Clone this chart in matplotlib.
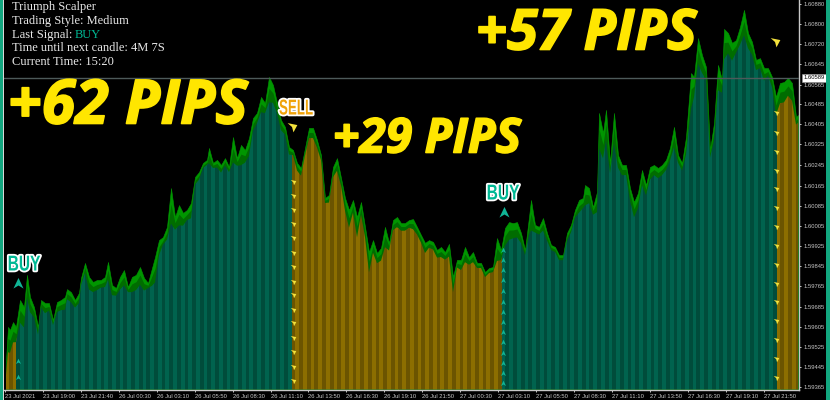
import numpy as np
import matplotlib
matplotlib.use('Agg')
import matplotlib.pyplot as plt
import matplotlib.patheffects as pe
from matplotlib.patches import Rectangle
from matplotlib.path import Path
from matplotlib.transforms import Affine2D

BASE = 1.59  # all series below are in pips above this price

bar_x = [6, 8, 10, 13, 16, 20, 24, 27, 30, 34, 38, 41, 45, 49, 53, 57, 61, 65, 67, 71,
         75, 79, 81, 85, 89, 93, 97, 101, 105, 108, 112, 116, 120, 124, 128, 132, 136, 140, 144, 148,
         152, 155, 159,
         163, 167, 171, 175, 179, 183, 187, 191, 195, 199, 203, 207, 209, 213, 217, 221, 225, 229, 233, 237,
         241, 245, 249, 253, 257, 261, 265, 269, 273, 277, 281, 285, 289, 293, 297, 301, 305, 309, 313, 317,
         321,
         325, 329, 333, 337, 341, 345, 349, 353, 357, 361, 365, 369, 373, 377, 381, 385, 389, 393, 397, 401,
         405, 409, 413, 417, 421, 425, 429, 433, 437, 441, 445, 449, 453, 457, 461, 465, 469, 473, 477, 481,
         485, 489, 493, 497, 501, 505, 509,
         513, 517, 521, 525, 529, 531, 535, 539, 543, 547, 551, 555, 559, 563, 567, 571, 575, 579, 583, 585,
         589, 593, 597, 599, 603, 606, 610, 614, 618, 622, 626, 630, 634, 638, 642, 646, 650,
         654, 658, 662, 666, 670, 674, 678, 682, 686, 691, 694, 698, 702, 706, 710, 714, 718, 722, 724, 728,
         732, 736, 740, 744, 748, 752, 756, 760, 764, 768, 772, 776, 780, 784, 788, 792, 796, 798]

high_pips = [47.2, 60.2, 59, 62.1, 60.2, 70.8, 68, 80.7, 72, 68,
             60.2, 70.8, 69.6, 69.6, 62.9, 70, 70.8, 72, 75.1, 73.9,
             70.8, 73.6, 79.5, 85.4, 79.9, 77.9, 78.7, 78.7, 79.9, 85.8,
             76.7, 75.5, 79.9, 82.6, 75.9, 79.9, 80.7, 83.8, 79.5, 77.5,
             83.4, 87.7, 94.4,
             95.6, 99.6, 114.9, 103.5, 108.2, 105.1, 106.3, 109, 119.3, 121.2,
             124.8, 126, 130.7, 124.8, 126, 124, 126.7, 123.2, 135, 126.7,
             131.9, 129.9, 134.6, 142.5, 144.5, 150.8, 148.4, 158.7, 155.5, 148.4,
             141.7, 139, 131.1, 129.9, 124.8, 122.8, 130.7, 138.6, 138.6, 133.8,
             127.9,
             111, 112.2, 123.2, 126.7, 118.9, 111, 106.3, 110.2, 103.5, 109.4,
             99.6, 89.7, 94.4, 89.3, 91.3, 99.6, 93.3, 102.3, 103.5, 101.1,
             101.1, 102.3, 102.7, 99.6, 96.4, 93.3, 94.4, 93.7, 90.5, 91.7,
             89.7, 92.9, 79.9, 86.6, 86.6, 91.7, 87.7, 89.7, 85.4, 85.4,
             81.8, 83.4, 83.8, 95.2, 90.5, 99.2, 101.5,
             101.1, 101.5, 97.2, 90.5, 103.5, 110.2, 100.4, 99.6, 103.1, 97.2,
             92.5, 91.7, 88.5, 88.5, 97.2, 100.4, 106.3, 110.2, 111, 116.1,
             114.9, 107.4, 113.4, 144.5, 136.6, 145.7, 124.8, 144.5, 127.9, 124,
             124, 114.9, 109.4, 113, 122, 116.1, 123.2,
             124, 122.8, 124, 126, 130.7, 139, 127.9, 124.8, 135, 160.2,
             158.7, 174, 167.3, 162.6, 129.9, 140.5, 163.4, 157.5, 177.6, 176,
             172.1, 173.2, 178.4, 185.1, 176, 172.5, 165.4, 166.1, 162.2, 162.2,
             158.7, 150.8, 156.3, 156.7, 158.3, 156.3, 142.9, 143.7]

# distance from the high down to the top of the coloured body
wick_pips = [6, 10, 9, 8, 6, 9, 8, 9, 6, 4,
             3, 3, 4, 3, 2, 4, 4, 5, 4, 4,
             3, 4, 3, 4, 5, 4, 4, 3, 4, 7,
             4, 3, 5, 6, 2, 6, 6, 7, 5, 2,
             7, 10, 6,
             3, 5, 14, 5, 8, 5, 4, 6, 3, 3,
             2, 2, 6, 2, 3, 3, 3, 2, 10, 3,
             8, 5, 7, 5, 4, 6, 4, 10, 7, 4,
             4, 3, 3, 2, 3, 3, 3, 4, 4, 3,
             2,
             2, 3, 4, 5, 3, 5, 7, 5, 8, 5,
             4, 8, 5, 4, 5, 8, 3, 4, 4, 3,
             3, 3, 4, 3, 3, 4, 3, 3, 3, 4,
             3, 5, 6, 3, 4, 6, 3, 4, 2, 2,
             2, 2, 2, 9, 4, 7, 7,
             6, 6, 4, 2, 7, 12, 3, 3, 5, 3,
             2, 2, 2, 2, 3, 3, 3, 5, 4, 8,
             6, 3, 8, 14, 10, 12, 4, 12, 5, 4,
             4, 5, 6, 6, 6, 4, 5,
             4, 4, 4, 4, 5, 8, 3, 3, 7, 14,
             8, 10, 7, 5, 3, 7, 10, 5, 12, 8,
             7, 5, 7, 10, 6, 5, 4, 4, 5, 3,
             4, 7, 8, 8, 7, 7, 3, 3]

# bars left of these positions keep the previous signal colour
signal_x = [18, 293, 503, 776]

x_ticks = [5, 43, 81, 119, 157, 195, 233, 271, 308, 346, 384, 422, 460, 498, 536, 574, 612, 650, 688, 726, 764]
x_labels = ['23 Jul 2021', '23 Jul 19:00', '23 Jul 21:40', '26 Jul 00:30', '26 Jul 03:10', '26 Jul 05:50',
            '26 Jul 08:30', '26 Jul 11:10', '26 Jul 13:50', '26 Jul 16:30', '26 Jul 19:10', '26 Jul 21:50',
            '27 Jul 00:30', '27 Jul 03:10', '27 Jul 05:50', '27 Jul 08:30', '27 Jul 11:10', '27 Jul 13:50',
            '27 Jul 16:30', '27 Jul 19:10', '27 Jul 21:50']

y_tick_pips = [187.4, 179.5, 171.5, 163.6, 155.7, 148, 140.1, 132.1, 124, 115.7,
               107.8, 99.9, 92.1, 84.2, 76.3, 68, 60.2, 52.3, 44.4, 36.5]
y_labels = ['1.60880', '1.60800', '1.60720', '1.60645', '1.60565', '1.60485', '1.60405', '1.60325', '1.60245',
            '1.60165', '1.60085', '1.60005', '1.59925', '1.59845', '1.59765', '1.59685', '1.59605', '1.59525',
            '1.59445', '1.59365']

last_price_pips = 158.3

buy_small_x = [18, 18]
buy_small_pips = [46.8, 40.5]
buy2_small_pips = [90.5, 86.6, 82.6, 78.7, 74.3, 70, 66.1, 62.1, 58.2, 54.3, 49.9, 46, 42, 38.1]
sell_small_pips = [117.3, 111.8, 106.3, 100.7, 95.2, 89.3, 83.8, 77.9, 72.8, 66.9, 61.7, 55.8, 50.3, 44.4, 38.9]
sell2_small_pips = [144.5, 136.6, 129.1, 121.6, 114.5, 107, 99.6, 92.1, 84.6, 77.1, 70, 62.5, 55, 47.6, 40.1]

info_lines = ['Triumph Scalper', 'Trading Style: Medium', 'Last Signal: ', 'Time until next candle: 4M 7S',
              'Current Time: 15:20']

TEAL = ['#00634e', '#004c3b']
AMBER = ['#8c6e00', '#6b5400']
W, H = 840, 400
STRIPE = 3.82

def price(pips):
    return BASE + np.asarray(pips) / 1e4

def px_y(y):
    # pixel row of the picture to price, same scale the series were read with
    return price(189 - 0.394 * y)

class Squeezed(pe.Stroke):
    # draws the glyphs narrower about a fixed pixel column, the badges use a condensed face
    def __init__(self, cx, sx, **kw):
        super().__init__(**kw)
        self.squeeze = Affine2D().translate(-cx, 0).scale(sx, 1).translate(cx, 0)

    def draw_path(self, renderer, gc, tpath, affine, rgbFace):
        super().draw_path(renderer, gc, tpath, affine + self.squeeze, rgbFace)

def main():
    fig = plt.figure(figsize=(W / 100, H / 100), dpi=100, facecolor='black')
    ax = fig.add_axes([4 / W, 1 - 389.5 / H, 795 / W, 389.5 / H], facecolor='black')
    ax.set_xlim(4, 799)
    ax.set_ylim(px_y(389.5), px_y(0))

    xs = np.array(bar_x, dtype=float)
    high = np.array(high_pips)
    wick = np.array(wick_pips)
    bottom = px_y(389.5)

    ax.fill_between(xs, price(high), bottom, color='#009600', linewidth=0.4, zorder=1)
    ax.fill_between(xs, price(high - wick * 0.45), bottom, color='#006c00', linewidth=0, zorder=1.2)

    body = ax.fill_between(xs, price(high - wick), bottom, color='none', linewidth=0, zorder=1.3)
    clip = body.get_paths()[0]

    # vertical stripes only show inside the body outline
    stripe_edges = np.arange(5, 799, STRIPE)
    colors = []
    for i, x in enumerate(stripe_edges):
        seg = np.searchsorted(signal_x, x + STRIPE / 2, side='right')
        pal = TEAL if seg % 2 == 1 else AMBER
        colors.append(pal[i % 2])
    bars = ax.bar(stripe_edges, px_y(0) - bottom, width=STRIPE + 0.05, bottom=bottom, align='edge',
                  color=colors, linewidth=0, zorder=2)
    for b in bars:
        b.set_clip_path(clip, ax.transData)

    # last price line
    ax.axhline(price(last_price_pips), color='#4d5a5a', lw=1, zorder=4)

    # signal arrows
    up = Path([(-1, -1), (0, 1.1), (1, -1), (0, -0.4), (-1, -1)])
    down = Path([(-1, 0.9), (1, 0.5), (0.2, -1), (-0.1, 0.1), (-1, 0.9)])
    ax.plot(buy_small_x, price(buy_small_pips), ls='', marker=up, ms=4, color='#10b596', mew=0, zorder=5)
    ax.plot([503] * len(buy2_small_pips), price(buy2_small_pips), ls='', marker=up, ms=4, color='#10b596', mew=0, zorder=5)
    ax.plot([293] * len(sell_small_pips), price(sell_small_pips), ls='', marker=down, ms=4, color='#f4e23c', mew=0, zorder=5)
    ax.plot([776] * len(sell2_small_pips), price(sell2_small_pips), ls='', marker=down, ms=4, color='#f4e23c', mew=0, zorder=5)
    ax.plot([18, 504], [px_y(283), px_y(212)], ls='', marker=up, ms=8, color='#10b596', mew=0, zorder=5)
    ax.plot([292, 775], [px_y(127), px_y(42)], ls='', marker=down, ms=7, color='#f4e23c', mew=0, zorder=5)

    # axes look
    for side in ['top', 'left']:
        ax.spines[side].set_visible(False)
    for side in ['right', 'bottom']:
        ax.spines[side].set_color('#c8c8c8')
        ax.spines[side].set_linewidth(1)
    ax.yaxis.tick_right()
    ax.set_xticks(x_ticks)
    ax.set_xticklabels(x_labels, ha='left', fontsize=4.2, color='#c8c8c8', family='Liberation Sans')
    ax.set_yticks(price(y_tick_pips))
    ax.set_yticklabels(y_labels, fontsize=4.2, color='#c8c8c8', family='Liberation Sans')
    ax.tick_params(axis='both', color='#c8c8c8', length=1.5, width=0.7, pad=1.5)

    # price tag on the axis
    ax.annotate('1.60589', xy=(1, price(last_price_pips)), xycoords=('axes fraction', 'data'), xytext=(3, 0),
                textcoords='offset points', fontsize=4.2, family='Liberation Sans', color='black', va='center',
                ha='left', bbox=dict(boxstyle='square,pad=0.25', fc='white', ec='#999999', lw=0.4), zorder=6)

    # info panel
    rows = [7, 21, 35, 48, 62]
    for line, y in zip(info_lines, rows):
        fig.text(12 / W, 1 - y / H, line, family='Liberation Serif', fontsize=9, color='#e8e8e8', va='center')
    fig.text(75 / W, 1 - 35 / H, 'BUY', family='Liberation Serif', fontsize=9, color='#00b894', va='center')

    # big yellow captions
    for s, x, y, size in [('+62 PIPS', 8, 108, 44), ('+57 PIPS', 476, 35, 40.5), ('+29 PIPS', 333, 140, 34.5)]:
        fig.text(x / W, 1 - y / H, s, family='Open Sans', weight='bold', style='italic', fontsize=size,
                 color='#ffe600', va='center', ha='left', zorder=8,
                 path_effects=[pe.withStroke(linewidth=1.2, foreground='#ffe600')])

    # BUY / SELL badges
    for s, x, y, c, sx in [('BUY', 24, 265, '#00b894', 0.72), ('SELL', 296, 109, '#f0a30a', 0.62),
                           ('BUY', 503, 194, '#00b894', 0.72)]:
        fig.text(x / W, 1 - y / H, s, family='Liberation Sans', weight='bold', fontsize=15.5,
                 color=c, va='center', ha='center', zorder=8,
                 path_effects=[Squeezed(x, sx, linewidth=2.6, foreground='white'),
                               Squeezed(x, sx, linewidth=0, foreground=c)])

    # window border
    fig.add_artist(Rectangle((0, 0), 3 / W, 1, transform=fig.transFigure, fc='#12a77f', ec='none'))
    fig.add_artist(Rectangle((3 / W, 0), 1 / W, 1, transform=fig.transFigure, fc='#d8d8d8', ec='none'))
    fig.add_artist(Rectangle((826 / W, 0), 4 / W, 1, transform=fig.transFigure, fc='#12a77f', ec='none'))
    fig.add_artist(Rectangle((830 / W, 0), 10 / W, 1, transform=fig.transFigure, fc='white', ec='none'))

    fig.savefig('out.png', dpi=100, facecolor='black')

if __name__ == '__main__':
    main()
